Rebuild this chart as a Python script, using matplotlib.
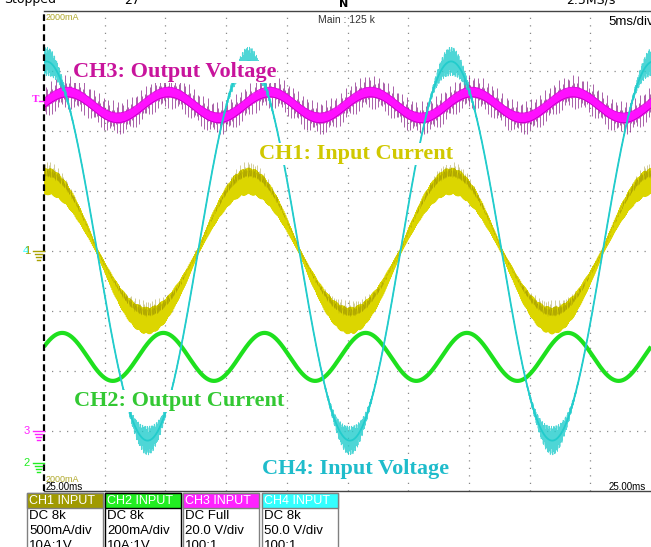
import numpy as np
import matplotlib
matplotlib.use("Agg")
import matplotlib.pyplot as plt
from matplotlib.patches import Rectangle

W, H = 651, 547

# ---- scope settings ----
time_per_div_ms = 5.0
n_xdiv = 10
n_ydiv = 8

channels = ["CH1", "CH2", "CH3", "CH4"]
labels = ["CH1: Input Current", "CH2: Output Current",
          "CH3: Output Voltage", "CH4: Input Voltage"]
scale_per_div = [0.5, 0.2, 20.0, 50.0]      # A/div, A/div, V/div, V/div
ground_div = [0.0, -3.53, -3.0, 0.0]         # ground marker position (div)
dc_level = [0.0, 0.353, 108.7, 0.0]          # A, A, V, V
ac_amplitude = [0.58, 0.08, 4.3, 158.0]      # A, A, V, V
ac_freq_hz = [60.0, 120.0, 120.0, 60.0]
peak_time_ms = [0.2, 1.5, 1.9, 0.2]
noise_div = [0.22, 0.0, 0.2, 0.22]           # visible ripple / spike size (div)

box_titles = ["CH1 INPUT", "CH2 INPUT", "CH3 INPUT", "CH4 INPUT"]
box_lines = [["DC 8k", "500mA/div", "10A:1V"],
             ["DC 8k", "200mA/div", "10A:1V"],
             ["DC Full", "20.0 V/div", "100:1"],
             ["DC 8k", "50.0 V/div", "100:1"]]

trace_col = ["#dcd600", "#1ee01e", "#ff10ff", "#22cccc"]
dark_col = ["#8a7e00", "#10a010", "#7a0a7a", "#109fa8"]
label_col = ["#d0c800", "#33c833", "#c8149c", "#1fbccb"]
head_col = ["#a09a00", "#22ee22", "#ff22ff", "#33ffff"]

fig = plt.figure(figsize=(W / 100, H / 100), dpi=100)
fig.patch.set_facecolor("white")

# graticule axes: x 44..651 px, y 11..491 px
ax = fig.add_axes([44 / W, (H - 491) / H, 607 / W, 480 / H])
tmax = time_per_div_ms * n_xdiv
ax.set_xlim(0, tmax)
ax.set_ylim(-n_ydiv / 2, n_ydiv / 2)
ax.axis("off")

for k in range(1, n_xdiv):
    ax.plot([k * time_per_div_ms] * 2, [-4, 4], color="#8a8a8a",
            lw=0.9, ls=(0, (1, 5)), zorder=1)
for k in range(-3, 4):
    ax.plot([0, tmax], [k, k], color="#8a8a8a", lw=0.9, ls=(0, (1, 5)), zorder=1)
ax.plot([0, tmax], [4, 4], color="#444444", lw=1.0, zorder=6, clip_on=False)
ax.plot([0, tmax], [-4, -4], color="#444444", lw=1.0, zorder=6, clip_on=False)
ax.plot([0, 0], [-4, 4], color="black", lw=1.6, ls=(0, (3, 1.5)), zorder=6,
        clip_on=False)

N = 2400
t = np.linspace(0, tmax, N)
n = np.arange(N)


def trace(i):
    ph = 2 * np.pi * ac_freq_hz[i] * (t - peak_time_ms[i]) / 1000.0
    y = ground_div[i] + (dc_level[i] + ac_amplitude[i] * np.cos(ph)) / scale_per_div[i]
    return y, ph


alt = np.where(n % 2 == 0, 1.0, -1.0)
pat_a = 0.55 + 0.45 * np.abs(np.sin(n * 0.731))
pat_b = 0.3 + 0.7 * np.abs(np.sin(n * 1.913))

# CH1 input current: band whose width follows |i|
y1, ph1 = trace(0)
w1 = 0.05 + noise_div[0] * 0.8 * np.abs(np.cos(ph1))
ax.fill_between(t, y1 - w1 * 0.8, y1 + w1 * 0.8, color=trace_col[0], lw=0, zorder=2)
ax.plot(t, y1 + w1 * alt * pat_a, color=trace_col[0], lw=0.6, zorder=2)
ax.plot(t[::2], (y1 + w1 * alt * pat_b * 0.8)[::2], color=dark_col[0], lw=0.35,
        alpha=0.35, zorder=2)
spk = w1 * (0.9 + 0.6 * np.abs(np.sin(n * 2.71)) ** 2) * np.abs(np.cos(ph1))
ax.vlines(t[::5], (y1 + 0.4 * w1)[::5], (y1 + spk)[::5], color=dark_col[0], lw=0.5,
          alpha=0.55, zorder=2)

# CH2 output current
y2, ph2 = trace(1)
ax.plot(t, y2, color=trace_col[1], lw=3.0, zorder=2, solid_capstyle="butt")

# CH3 output voltage: magenta band with sparse purple spikes
y3, ph3 = trace(2)
sp_up = 0.08 + noise_div[2] * np.abs(np.sin(n * 0.6180)) ** 6
sp_dn = 0.08 + noise_div[2] * np.abs(np.sin(n * 1.3247)) ** 6
ax.vlines(t[::4], (y3 - sp_dn)[::4], (y3 + sp_up)[::4],
          color=dark_col[2], lw=0.6, alpha=0.75, zorder=2)
ax.fill_between(t, y3 - 0.085, y3 + 0.085, color=trace_col[2], lw=0, zorder=2)
ax.plot(t, y3 + 0.08, color="#e000e0", lw=0.6, zorder=2)
ax.plot(t, y3 - 0.08, color="#c000c0", lw=0.6, zorder=2)

# CH4 input voltage: thin line, noisy near the peaks
y4, ph4 = trace(3)
a4 = 0.02 + noise_div[3] * np.abs(np.cos(ph4)) ** 8
ax.plot(t, y4 + a4 * alt * pat_b, color=trace_col[3], lw=0.6, alpha=0.8, zorder=3)
ax.plot(t, y4, color=trace_col[3], lw=1.3, zorder=3)

# ---- overlay in pixel coordinates ----
ov = fig.add_axes([0, 0, 1, 1])
ov.set_xlim(0, W)
ov.set_ylim(H, 0)
ov.axis("off")
ov.patch.set_alpha(0)

lab_pos = [(259, 154), (74, 401), (73, 72), (262, 469)]
for i in range(4):
    ov.text(lab_pos[i][0], lab_pos[i][1], labels[i], color=label_col[i],
            fontsize=16, fontweight="bold", family="Liberation Serif",
            ha="left", va="center", zorder=10,
            bbox=dict(facecolor="white", edgecolor="none", pad=0.5))

# top status line (cut off by the screen edge, as on the original screenshot)
ov.text(4, 0, "Stopped", fontsize=9, color="black", ha="left", va="center",
        family="DejaVu Sans")
ov.text(124, 0, "27", fontsize=9, color="black", ha="left", va="center")
ov.text(344, 4, "N", fontsize=8, color="black", ha="center", va="center",
        fontweight="bold")
ov.text(566, 0, "2.5MS/s", fontsize=9, color="black", ha="left", va="center")

ov.text(46, 18, "2000mA", fontsize=6.5, color="#b0a82a", ha="left", va="center",
        family="Liberation Sans")
ov.text(318, 20, "Main : 125 k", fontsize=7.5, color="#333333", ha="left",
        va="center", family="Liberation Sans")
ov.text(608, 22, "5ms/div", fontsize=9.5, color="black", ha="left", va="center",
        family="Liberation Sans")
ov.text(46, 479, "2000mA", fontsize=6.5, color="#b0a82a", ha="left", va="center",
        family="Liberation Sans")
ov.text(46, 487, "25.00ms", fontsize=7, color="black", ha="left", va="center",
        family="Liberation Sans")
ov.text(609, 487, "25.00ms", fontsize=7, color="black", ha="left", va="center",
        family="Liberation Sans")

# left markers
ov.text(36, 100, "T", fontsize=8, color="#ff22ff", ha="center", va="center",
        family="Liberation Serif", fontweight="bold")
ov.plot([39, 43], [101, 101], color="#ff22ff", lw=1)
marker_y = [251, 463, 431, 251]
marker_x = [27, 27, 27, 26]
for i in [3, 0, 2, 1]:
    ov.text(marker_x[i], marker_y[i], channels[i][-1], fontsize=8,
            color=head_col[i] if i != 0 else "#a8a000", ha="center", va="center",
            family="Liberation Sans")
for i in [0, 2, 1]:
    c = "#a8a000" if i == 0 else head_col[i]
    yy = marker_y[i]
    ov.plot([33, 44], [yy, yy], color=c, lw=1)
    ov.plot([35, 42], [yy + 3, yy + 3], color=c, lw=1)
    ov.plot([36, 41], [yy + 6, yy + 6], color=c, lw=1)
    ov.plot([37, 40], [yy + 9, yy + 9], color=c, lw=1)

# channel info boxes
box_x = [27, 105, 183, 262]
for i in range(4):
    x0 = box_x[i]
    ov.add_patch(Rectangle((x0, 493), 76, 60, facecolor="white",
                           edgecolor="black" if i == 1 else "#808080", lw=1, zorder=5))
    ov.add_patch(Rectangle((x0, 493), 76, 15, facecolor=head_col[i],
                           edgecolor="black" if i == 1 else "#808080", lw=1, zorder=6))
    ov.text(x0 + 2, 500.5, box_titles[i], fontsize=9, color="white", ha="left",
            va="center", family="Liberation Sans", zorder=7)
    for j, s in enumerate(box_lines[i]):
        ov.text(x0 + 2, 516 + 15 * j, s, fontsize=9.5, color="black", ha="left",
                va="center", family="Liberation Sans", zorder=7)

fig.savefig("out.png", dpi=100, facecolor="white")
